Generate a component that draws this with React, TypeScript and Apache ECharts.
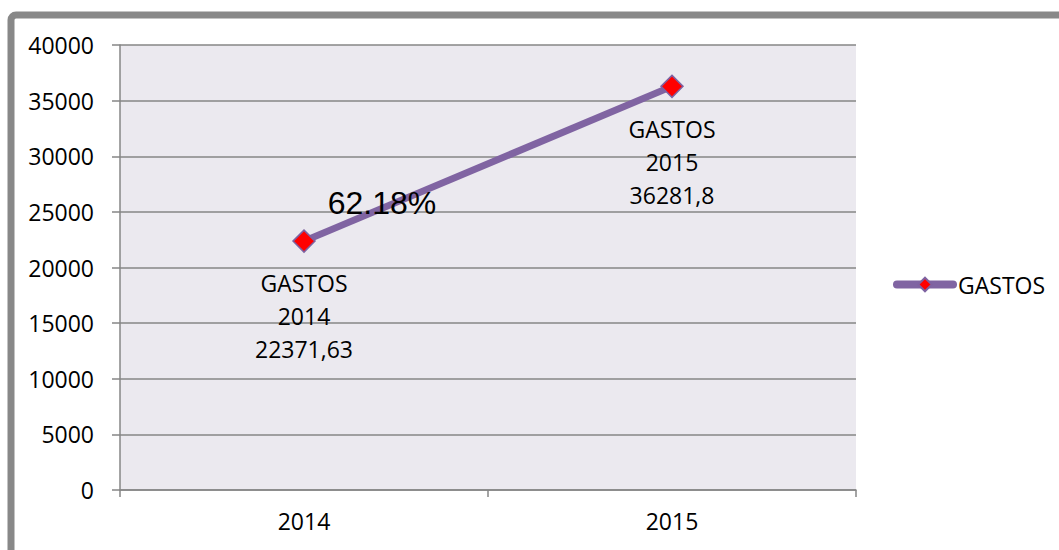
import React, { useEffect, useRef } from "react";
import * as echarts from "echarts";

const categories = ["2014", "2015"];
const seriesName = "GASTOS";
const gastos = [22371.63, 36281.8];
const yTicks = { min: 0, max: 40000, interval: 5000 };

const growthPct = ((gastos[1] / gastos[0] - 1) * 100).toFixed(2) + "%";

const FONT = "Open Sans";
const FS = 23;

export default function App() {
  const ref = useRef<HTMLDivElement>(null);
  useEffect(() => {
    document.body.style.margin = "0";
    const chart = echarts.init(ref.current!, null, { renderer: "svg" });
    chart.setOption({
      animation: false,
      backgroundColor: "#FFFFFF",
      textStyle: { fontFamily: FONT },
      grid: {
        left: 120,
        right: 203,
        top: 45,
        bottom: 60,
        show: true,
        backgroundColor: "#EBE9EF",
        borderWidth: 0,
      },
      legend: {
        data: [seriesName],
        left: 888,
        top: 268,
        itemWidth: 56,
        itemHeight: 17,
        lineStyle: { width: 8, cap: "round" },
        textStyle: { fontFamily: FONT, fontSize: FS, color: "#000" },
      },
      xAxis: {
        type: "category",
        data: categories,
        boundaryGap: true,
        axisLine: { show: true, lineStyle: { color: "#868686", width: 1.5 } },
        axisTick: { show: true, length: 7, alignWithLabel: false, lineStyle: { color: "#868686", width: 1.5 } },
        axisLabel: { margin: 19, fontFamily: FONT, fontSize: FS, color: "#000" },
        splitLine: { show: false },
      },
      yAxis: {
        type: "value",
        min: yTicks.min,
        max: yTicks.max,
        interval: yTicks.interval,
        axisLine: { show: true, lineStyle: { color: "#868686", width: 1.5 } },
        axisTick: { show: true, length: 8, lineStyle: { color: "#868686", width: 1.5 } },
        axisLabel: {
          margin: 26,
          fontFamily: FONT,
          fontSize: FS,
          color: "#000",
          formatter: (v: number) => String(v),
        },
        splitLine: { show: true, lineStyle: { color: "#868686", width: 1.5 } },
      },
      series: [
        {
          name: seriesName,
          type: "line",
          data: gastos,
          symbol: "diamond",
          symbolSize: 22,
          itemStyle: { color: "#FF0000", borderColor: "#7E62A1", borderWidth: 1.5 },
          lineStyle: { color: "#8064A2", width: 7 },
          label: {
            show: true,
            position: "bottom",
            distance: 14,
            fontFamily: FONT,
            fontSize: FS,
            lineHeight: 33,
            color: "#000",
            align: "center",
            formatter: (p: any) =>
              `${p.seriesName}\n${p.name}\n${String(p.value).replace(".", ",")}`,
          },
        },
      ],
      graphic: [
        {
          type: "rect",
          shape: { x: 11, y: 15, width: 1200, height: 700, r: 5 },
          style: { fill: "none", stroke: "#888888", lineWidth: 7 },
          silent: true,
          z: 100,
        },
        {
          type: "text",
          x: 382,
          y: 203,
          style: {
            text: growthPct,
            fontFamily: "Liberation Sans",
            fontSize: 32,
            fill: "#000",
            align: "center",
            verticalAlign: "middle",
          },
          z: 100,
        },
      ],
    });
    return () => chart.dispose();
  }, []);
  return (
    <div
      ref={ref}
      style={{ position: "fixed", left: 0, top: 0, width: 1059, height: 550 }}
    />
  );
}
